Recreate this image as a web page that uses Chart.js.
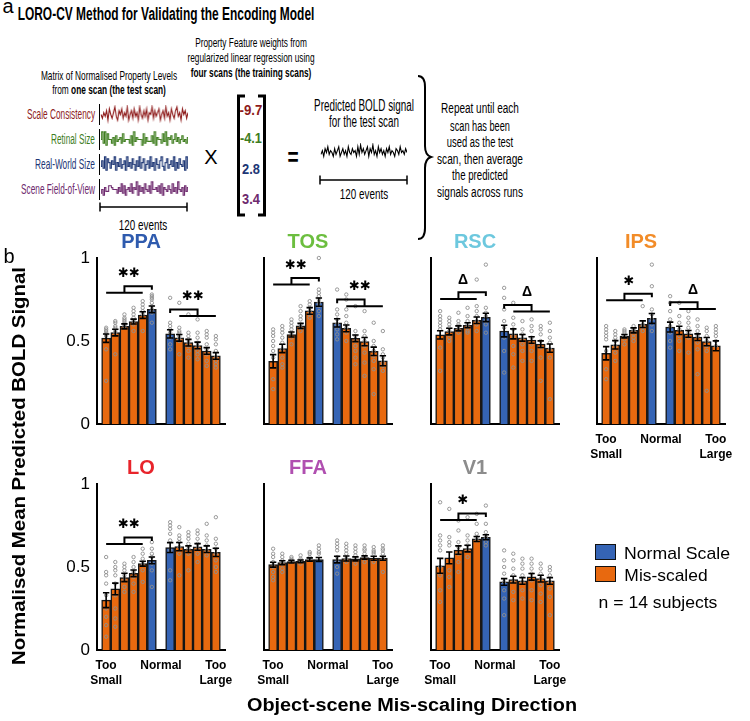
<!DOCTYPE html>
<html><head><meta charset="utf-8">
<script src="https://cdn.jsdelivr.net/npm/chart.js@4.4.0/dist/chart.umd.min.js"></script>
<style>
html,body{margin:0;padding:0;background:#fff;}
#stage{position:relative;width:750px;height:721px;overflow:hidden;font-family:"Liberation Sans",Arial,sans-serif;color:#000;}
.t{position:absolute;white-space:nowrap;line-height:1;}
canvas{position:absolute;}
svg{position:absolute;left:0;top:0;}
</style></head><body><div id="stage"></div>
<script>
// ---------------- DATA ----------------
// Panel a: example regressor time courses (0-10 units)
const scaleConsistency = [5,3,6,4,7,2,8,5,3,6,9,4,2,7,5,8,3,6,4,9,2,5,7,3,8,4,6,2,9,5,3,7,4,8,2,6,5,9,3,7,4,6,8,2,5,7,3,9,4,6,2,8,5,3,7,9,4,6,2,8,5,7,3,6];
const retinalSize = [5,9,3,9,2,8,5,5,3,6,2,7,4,5,6,3,8,4,5,5,5,3,7,2,9,4,6,5,5,5,2,8,3,6,4,4,4,7,3,9,2,6,5,5,3,8,4,9,2,6,5,7,3,5,8,4,6,3,5,7,4,5,3,6];
const realWorldSize = [4,7,3,9,2,8,6,3,7,5,9,2,6,4,8,3,5,7,2,9,4,6,3,8,5,2,7,4,9,3,6,8,2,5,7,3,9,4,6,2,8,5,3,7,9,4,2,6,8,3,5,7,4,9,2,6,3,8,5,4,7,2,9,3];
const sceneFOV = [3,5,2,6,4,4,7,7,6,5,5,5,3,6,4,8,3,7,2,5,6,4,8,3,6,5,9,2,7,4,6,3,8,5,4,7,3,9,5,5,6,4,7,3,8,2,6,5,4,7,5,3,8,4,6,3,9,5,4,6,2,7,4,6];
const predictedBold = [4,6,3,7,5,8,4,6,5,3,7,4,6,8,3,5,7,4,6,3,8,5,4,7,5,6,3,8,4,9,5,7,4,6,8,3,7,5,9,4,6,3,8,5,7,4,6,3,7,5,8,4,6,5,3,7,6,4,8,5,6,4,7,5];
const propertyNames = ['Scale Consistency','Retinal Size','Real-World Size','Scene Field-of-View'];
const propertyWeights = ['-9.7','-4.1','2.8','3.4'];

// Panel b: 12 conditions per region (Too Small ... Normal | Normal ... Too Large)
const levels = [-5,-4,-3,-2,-1,0,0,1,2,3,4,5];
const xTickPos = [1,7,13];
const xTickLabels = [['Too','Small'],['Normal'],['Too','Large']];
const yTicks = [0,0.5,1];
const regions = ['PPA','TOS','RSC','IPS','LO','FFA','V1'];

const meanPPA = [0.517,0.551,0.588,0.617,0.656,0.691,0.543,0.519,0.490,0.473,0.440,0.410];
const meanTOS = [0.378,0.455,0.539,0.591,0.681,0.734,0.609,0.576,0.516,0.496,0.438,0.381];
const meanRSC = [0.537,0.557,0.576,0.595,0.625,0.642,0.560,0.543,0.519,0.506,0.481,0.457];
const meanIPS = [0.426,0.477,0.529,0.564,0.601,0.636,0.584,0.564,0.543,0.523,0.496,0.471];
const meanLO  = [0.300,0.368,0.437,0.462,0.520,0.540,0.617,0.623,0.607,0.621,0.607,0.588];
const meanFFA = [0.514,0.526,0.532,0.534,0.545,0.545,0.545,0.551,0.549,0.557,0.553,0.553];
const meanV1  = [0.507,0.555,0.602,0.611,0.669,0.679,0.410,0.424,0.416,0.441,0.430,0.416];

const sePPA = [0.025,0.02,0.015,0.015,0.02,0.02,0.025,0.02,0.02,0.02,0.02,0.02];
const seTOS = [0.04,0.025,0.015,0.015,0.02,0.025,0.025,0.02,0.02,0.025,0.025,0.03];
const seRSC = [0.025,0.02,0.015,0.015,0.02,0.025,0.035,0.03,0.02,0.02,0.02,0.025];
const seIPS = [0.04,0.025,0.01,0.015,0.02,0.03,0.03,0.025,0.02,0.02,0.025,0.03];
const seLO  = [0.045,0.035,0.025,0.02,0.015,0.02,0.03,0.025,0.02,0.02,0.02,0.025];
const seFFA = [0.015,0.012,0.008,0.008,0.01,0.012,0.02,0.015,0.012,0.01,0.012,0.012];
const seV1  = [0.045,0.035,0.025,0.02,0.015,0.015,0.02,0.02,0.02,0.02,0.02,0.02];

// individual subject points (visible ones, estimated)
const subjPPA = [[0.58,0.57,0.56,0.55,0.54,0.53,0.45,0.26],[0.62,0.61,0.59,0.58,0.56,0.55,0.42],[0.66,0.64,0.63,0.62,0.61,0.60,0.59],[0.70,0.68,0.66,0.64,0.62,0.60,0.56],[0.74,0.72,0.70,0.68,0.66,0.56],[0.78,0.77,0.76,0.75,0.73,0.71,0.69,0.67,0.61],
 [0.76,0.61,0.59,0.57,0.55,0.52,0.48,0.45],[0.73,0.58,0.56,0.55,0.53,0.51,0.50,0.42],[0.66,0.55,0.53,0.51,0.49,0.47,0.44,0.40],[0.63,0.55,0.52,0.49,0.47,0.44,0.42,0.39],[0.56,0.54,0.52,0.48,0.45,0.42,0.38,0.35],[0.53,0.51,0.48,0.44,0.40,0.38,0.36,0.34]];
const subjTOS = [[0.57,0.55,0.53,0.50,0.47,0.44,0.40,0.27,0.21],[0.59,0.57,0.55,0.52,0.49,0.45,0.40,0.36,0.34],[0.63,0.61,0.59,0.57,0.55,0.52,0.48],[0.71,0.68,0.65,0.63,0.60,0.58,0.56],[0.74,0.72,0.70,0.68,0.66,0.64],[1.0,0.81,0.79,0.77,0.75,0.73,0.71,0.68,0.65],
 [0.81,0.69,0.66,0.63,0.60,0.57,0.54,0.51],[0.78,0.75,0.69,0.65,0.61,0.58,0.55,0.50],[0.71,0.56,0.53,0.50,0.47,0.44,0.40,0.36],[0.68,0.56,0.53,0.50,0.47,0.43,0.37,0.29],[0.61,0.50,0.47,0.44,0.41,0.38,0.33,0.18],[0.56,0.45,0.42,0.40,0.37,0.35,0.32]];
const subjRSC = [[0.68,0.65,0.63,0.61,0.59,0.57,0.46,0.32],[0.64,0.62,0.60,0.58,0.56,0.52,0.50],[0.67,0.62,0.60,0.59,0.57,0.55],[0.70,0.65,0.62,0.60,0.58,0.56,0.55],[0.87,0.71,0.68,0.65,0.62,0.60,0.56],[0.96,0.70,0.67,0.65,0.62,0.60,0.55],
 [0.82,0.76,0.69,0.62,0.58,0.52,0.44,0.31],[0.73,0.64,0.60,0.57,0.53,0.47,0.42,0.34],[0.62,0.57,0.54,0.51,0.48,0.44,0.38],[0.63,0.59,0.56,0.52,0.48,0.44,0.38],[0.59,0.57,0.54,0.50,0.46,0.40,0.26],[0.61,0.56,0.52,0.49,0.45,0.40,0.15]];
const subjIPS = [[0.59,0.57,0.55,0.53,0.51,0.44,0.33,0.27],[0.56,0.54,0.52,0.50,0.47,0.43,0.38],[0.57,0.56,0.55,0.53,0.51,0.48],[0.59,0.57,0.56,0.54,0.52,0.50],[0.71,0.60,0.59,0.58,0.56],[0.96,0.83,0.69,0.66,0.63,0.60,0.56],
 [0.77,0.73,0.68,0.63,0.59,0.55,0.50,0.46],[0.73,0.65,0.61,0.57,0.53,0.50,0.44],[0.68,0.64,0.61,0.58,0.55,0.52,0.43],[0.63,0.59,0.56,0.53,0.49,0.45,0.30],[0.58,0.56,0.53,0.50,0.47,0.44,0.20],[0.59,0.57,0.55,0.53,0.50,0.47]];
const subjLO = [[0.56,0.47,0.45,0.40,0.33,0.25,0.20,0.15,0.08],[0.53,0.50,0.48,0.45,0.40,0.33,0.25,0.19,0.14],[0.52,0.50,0.48,0.45,0.42,0.38,0.35],[0.56,0.53,0.50,0.47,0.44,0.40,0.35],[0.61,0.58,0.55,0.52,0.48,0.41],[0.65,0.61,0.58,0.56,0.52,0.48,0.38],
 [0.77,0.75,0.73,0.70,0.66,0.60,0.48,0.42],[0.74,0.69,0.67,0.65,0.62,0.58,0.45],[0.71,0.69,0.67,0.64,0.61,0.58,0.48],[0.72,0.70,0.67,0.64,0.61,0.58,0.53],[0.76,0.69,0.66,0.63,0.60,0.57],[0.80,0.67,0.64,0.61,0.58,0.54,0.50,0.47]];
const subjFFA = [[0.61,0.58,0.56,0.53,0.50,0.47,0.44,0.42],[0.58,0.56,0.54,0.52,0.49,0.47],[0.56,0.55,0.54,0.53],[0.57,0.55,0.54,0.52],[0.59,0.58,0.56,0.55],[0.63,0.61,0.59,0.58],
 [0.66,0.64,0.62,0.60,0.56,0.53,0.50,0.46],[0.64,0.62,0.60,0.58,0.55,0.53],[0.63,0.61,0.59,0.57,0.52],[0.63,0.61,0.60,0.58,0.53],[0.62,0.60,0.59,0.58,0.53],[0.63,0.61,0.60,0.58,0.55,0.47]];
const subjV1 = [[0.89,0.69,0.66,0.63,0.60,0.50,0.45,0.36,0.29],[0.85,0.68,0.65,0.63,0.48,0.44,0.38],[0.78,0.72,0.65,0.62,0.58,0.53,0.47],[0.80,0.69,0.66,0.63,0.60,0.56],[0.82,0.76,0.70,0.68,0.66],[0.87,0.76,0.71,0.68,0.65,0.63],
 [0.60,0.54,0.50,0.46,0.41,0.36,0.31,0.21],[0.58,0.54,0.49,0.45,0.41,0.35,0.30],[0.55,0.52,0.49,0.45,0.41,0.36,0.31],[0.55,0.52,0.49,0.46,0.42,0.36,0.30],[0.52,0.49,0.46,0.43,0.39,0.34,0.29],[0.50,0.48,0.45,0.41,0.37,0.32,0.21]];

// significance: [label, bracket baseline value, side (0 = small side, 1 = large side)]
const sigPPA = [['✱✱',0.79,0],['✱✱',0.65,1]];
const sigTOS = [['✱✱',0.84,0],['✱✱',0.71,1]];
const sigRSC = [['Δ',0.753,0],['Δ',0.677,1]];
const sigIPS = [['✱',0.745,0],['Δ',0.693,1]];
const sigLO  = [['✱✱',0.638,0]];
const sigFFA = [];
const sigV1  = [['✱',0.783,0]];

const legendLabels = ['Normal Scale','Mis-scaled'];

// ---------------- STYLE / LAYOUT ----------------
const ORANGE = '#E8690F', BLUE = '#3564B5';
const titleColors = {PPA:'#2F5BAE',TOS:'#6CBE3F',RSC:'#6DC8DE',IPS:'#F28C28',LO:'#E8242B',FFA:'#B04FB0',V1:'#8C8C8C'};
const propColors = ['#8E1B1B','#3E7D1E','#1D3675','#6E2A6E'];
const stage = document.getElementById('stage');
const FONT = '"Liberation Sans", Arial, sans-serif';

function T(html, cx, cy, w, size, o) {
  o = o || {};
  const el = document.createElement('div');
  el.className = 't';
  el.innerHTML = html;
  el.style.fontSize = size + 'px';
  el.style.fontWeight = o.bold ? 'bold' : 'normal';
  el.style.color = o.color || '#000';
  el.style.left = cx + 'px';
  el.style.top = cy + 'px';
  stage.appendChild(el);
  const s = w ? w / el.offsetWidth : 1;
  el.style.transform = 'translate(-50%,-50%) ' + (o.rot ? 'rotate(-90deg) ' : '') + 'scaleX(' + s + ')';
  return el;
}
function mkCanvas(left, top, w, h) {
  const c = document.createElement('canvas');
  c.width = w; c.height = h;
  c.style.left = left + 'px'; c.style.top = top + 'px';
  c.style.width = w + 'px'; c.style.height = h + 'px';
  stage.appendChild(c);
  return c;
}

// ---------- Panel a ----------
T('a', 8, 6, null, 20);
T('LORO-CV Method for Validating the Encoding Model', 165.5, 15, 297, 17.5, {bold:true});
T('Property Feature weights from', 251, 43, 112, 13.5);
T('regularized linear regression using', 250.5, 58, 127, 13.5);
T('four scans (the training scans)', 250.5, 73, 121, 13.5, {bold:true});
T('Matrix of Normalised Property Levels', 109, 76, 136, 13.5);
T('from <b>one scan (the test scan)</b>', 109, 90, 114, 13.5);
const labRight = 95, labLefts = [27,51,35,21], rowY = [114,139,164,189], weightY = [109,137,168,198], weightW = [23,22,18,18];
propertyNames.forEach((n,i) => {
  T(n, (labLefts[i]+labRight)/2, rowY[i], labRight-labLefts[i], 14, {color:propColors[i]});
  T(propertyWeights[i], 250.5, weightY[i], weightW[i], 15, {bold:true, color:propColors[i]});
});
T('X', 211, 157, 13, 20);
T('=', 293, 157, 11, 26, {bold:true});
T('Predicted BOLD signal', 363.5, 106, 100, 16);
T('for the test scan', 363.5, 122, 70, 16);
T('120 events', 363.5, 193, 48, 15);
T('120 events', 143, 224, 48, 15);
const rightLines = ['Repeat until each','scan has been','used as the test','scan, then average','the predicted','signals across runs'];
const rightY = [108,126,142,159,175,192], rightW = [78,60,66,86,56,86];
rightLines.forEach((s,i)=>T(s, 479.5, rightY[i], rightW[i], 15.5));

function squiggle(data, color, left, top, w, h, leftLine, stepped) {
  const c = mkCanvas(left, top, w, h);
  if (leftLine) c.style.borderLeft = '1.5px solid #000';
  new Chart(c, {
    type: 'line',
    data: {labels: data.map((_, i) => i), datasets: [{data, borderColor: color, borderWidth: 1.1, pointRadius: 0, tension: 0, stepped: stepped ? 'middle' : false}]},
    options: {responsive: false, animation: false, events: [],
      layout: {padding: {top: 1, bottom: 1, left: 1, right: 0}},
      plugins: {legend: {display: false}, tooltip: {enabled: false}},
      scales: {x: {display: false}, y: {display: false, min: 0, max: 10}}}
  });
}
const series = [scaleConsistency, retinalSize, realWorldSize, sceneFOV];
series.forEach((d,i) => squiggle(d, propColors[i], 98.5, rowY[i]-10, 89, 21, true, i>0));
squiggle(predictedBold, '#000', 320, 142, 87, 21, false, false);

const NS = 'http://www.w3.org/2000/svg';
const svg = document.createElementNS(NS, 'svg');
svg.setAttribute('width', 750); svg.setAttribute('height', 721);
svg.innerHTML =
  '<g fill="none" stroke="#000">' +
  '<path stroke-width="1.5" d="M100,207 H187 M100,202.5 V211.5 M187,202.5 V211.5"/>' +
  '<path stroke-width="1.5" d="M320,180 H407 M320,175.5 V184.5 M407,175.5 V184.5"/>' +
  '<path stroke-width="3" d="M245,96 H238.5 V215 H245"/>' +
  '<path stroke-width="3" d="M258,96 H264.5 V215 H258"/>' +
  '<path stroke-width="2" d="M418,76 Q425,76 425,87 L425,146 Q425,155 431,157 Q425,159 425,168 L425,228 Q425,239 418,239"/>' +
  '</g>';
stage.appendChild(svg);

// ---------- Panel b ----------
T('b', 9, 256, null, 20);
T('Normalised Mean Predicted BOLD Signal', 19, 466, 398, 18, {bold:true, rot:true});
T('Object-scene Mis-scaling Direction', 412, 705, 330, 18, {bold:true});

const extras = {
  id: 'extras',
  afterDatasetsDraw(chart) {
    const o = chart.options.plugins.extras;
    if (!o) return;
    const ctx = chart.ctx, xs = chart.scales.x, ys = chart.scales.y;
    const d = chart.data.datasets[0].data;
    const px = i => xs.getPixelForValue(d[i].x);
    const py = v => ys.getPixelForValue(v);
    ctx.save();
    // subject points
    ctx.strokeStyle = '#8f8f8f'; ctx.lineWidth = 0.9;
    o.subj.forEach((arr, i) => arr.forEach(v => {
      ctx.beginPath(); ctx.arc(px(i), py(v), 1.7, 0, Math.PI * 2); ctx.stroke();
    }));
    // error bars
    ctx.strokeStyle = '#000'; ctx.lineWidth = 1.6;
    o.se.forEach((e, i) => {
      const x = px(i), y0 = py(d[i].y - e), y1 = py(d[i].y + e);
      ctx.beginPath();
      ctx.moveTo(x, y0); ctx.lineTo(x, y1);
      ctx.moveTo(x - 3.2, y0); ctx.lineTo(x + 3.2, y0);
      ctx.moveTo(x - 3.2, y1); ctx.lineTo(x + 3.2, y1);
      ctx.stroke();
    });
    // significance brackets
    ctx.lineWidth = 2;
    o.sig.forEach(([label, base, side]) => {
      const g = side === 0 ? {a: 0, b: 4, mid: 2, n: 5} : {a: 7, b: 11, mid: 9, n: 6};
      const up = base + 0.04;
      ctx.beginPath();
      ctx.moveTo(px(g.a), py(base)); ctx.lineTo(px(g.b), py(base));
      ctx.moveTo(px(g.mid), py(base)); ctx.lineTo(px(g.mid), py(up));
      ctx.lineTo(px(g.n), py(up)); ctx.lineTo(px(g.n), py(up - 0.022));
      ctx.stroke();
      const lx = side === 0 ? (px(0) + px(5)) / 2 : (px(6) + px(11)) / 2;
      ctx.fillStyle = '#000';
      ctx.textAlign = 'center'; ctx.textBaseline = 'middle';
      if (label === 'Δ') ctx.font = 'bold 14px ' + FONT;
      else ctx.font = '13px "DejaVu Sans"';
      ctx.fillText(label, lx, py(up + 0.075));
    });
    ctx.restore();
  }
};

const barX = i => (i < 6 ? i + 1 : i + 2);
const panelData = {
  PPA: [meanPPA, sePPA, subjPPA, sigPPA], TOS: [meanTOS, seTOS, subjTOS, sigTOS],
  RSC: [meanRSC, seRSC, subjRSC, sigRSC], IPS: [meanIPS, seIPS, subjIPS, sigIPS],
  LO: [meanLO, seLO, subjLO, sigLO], FFA: [meanFFA, seFFA, subjFFA, sigFFA], V1: [meanV1, seV1, subjV1, sigV1]
};
const colX = [97, 264, 431, 597];
const rowTop = [258, 484];
const LEFTW = 40, PLOTW = 128, RIGHTW = 22, TITLEH = 28, PLOTH = 166, BOTH = 40;

regions.forEach((name, k) => {
  const col = k < 4 ? k : k - 4, row = k < 4 ? 0 : 1;
  const [means, se, subj, sig] = panelData[name];
  const c = mkCanvas(colX[col] - LEFTW, rowTop[row] - TITLEH, LEFTW + PLOTW + RIGHTW, TITLEH + PLOTH + BOTH);
  const showX = row === 1 || col === 3, showY = col === 0;
  new Chart(c, {
    type: 'bar',
    data: {datasets: [{
      data: means.map((v, i) => ({x: barX(i), y: v})),
      backgroundColor: levels.map(l => l === 0 ? BLUE : ORANGE),
      borderColor: '#151515', borderWidth: 1.5, barThickness: 9
    }]},
    options: {
      responsive: false, animation: false, events: [],
      layout: {padding: {left: 0, right: RIGHTW, top: 0, bottom: 0}},
      plugins: {
        legend: {display: false}, tooltip: {enabled: false},
        title: {display: true, text: name, color: titleColors[name],
          font: {family: FONT, size: 20, weight: 'bold', lineHeight: 1.2}, padding: {top: 0, bottom: 4}},
        extras: {se, subj, sig}
      },
      scales: {
        x: {type: 'linear', min: 0, max: 14, offset: false,
          grid: {display: false, drawTicks: false},
          border: {display: true, color: '#000', width: 2},
          ticks: {display: showX, autoSkip: false, maxRotation: 0, minRotation: 0, padding: 8, color: '#000',
            font: {family: FONT, size: 12, weight: 'bold', lineHeight: 1.25},
            callback: (v, i) => xTickLabels[i]},
          afterBuildTicks: s => { s.ticks = xTickPos.map(v => ({value: v})); },
          afterFit: s => { s.height = BOTH; }
        },
        y: {min: 0, max: 1,
          grid: {display: false, drawTicks: false},
          border: {display: true, color: '#000', width: 2},
          ticks: {display: showY, padding: 7, color: '#000', font: {family: FONT, size: 17},
            callback: v => String(v)},
          afterBuildTicks: s => { s.ticks = yTicks.map(v => ({value: v})); },
          afterFit: s => { s.width = LEFTW; }
        }
      }
    },
    plugins: [extras]
  });
});

// legend
[[BLUE, 544], [ORANGE, 566]].forEach(([col, y]) => {
  const sq = document.createElement('div');
  sq.style.cssText = 'position:absolute;left:595px;top:' + y + 'px;width:19px;height:14px;border:1.5px solid #111;background:' + col + ';';
  stage.appendChild(sq);
});
T(legendLabels[0], 677, 553, 106, 17);
T(legendLabels[1], 665.5, 575, 83, 17);
T('n = 14 subjects', 657.5, 602, 119, 17);
</script></body></html>
